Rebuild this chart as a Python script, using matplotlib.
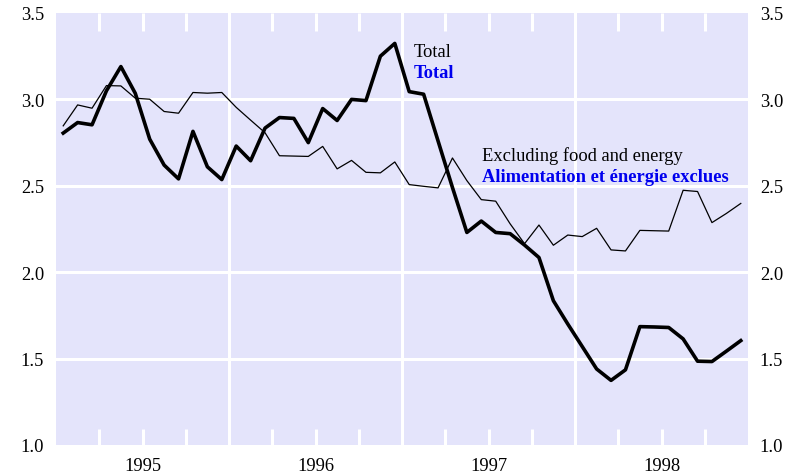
import numpy as np
import matplotlib
matplotlib.use("Agg")
import matplotlib.pyplot as plt

# monthly data, Jan 1995 - Dec 1998
total = [2.805, 2.866, 2.853, 3.05, 3.19, 3.035, 2.77, 2.62, 2.54, 2.815, 2.61, 2.536,
         2.73, 2.645, 2.834, 2.895, 2.89, 2.75, 2.947, 2.878, 3.0, 2.993, 3.25, 3.324,
         3.045, 3.03, 2.76, 2.49, 2.23, 2.296, 2.23, 2.223, 2.157, 2.085, 1.835, 1.70,
         1.57, 1.44, 1.374, 1.435, 1.685, 1.683, 1.68, 1.614, 1.485, 1.483, 1.543, 1.604]
core = [2.847, 2.968, 2.949, 3.08, 3.078, 3.007, 3.001, 2.93, 2.92, 3.04, 3.036, 3.04,
        2.954, 2.88, 2.807, 2.674, 2.672, 2.67, 2.728, 2.598, 2.647, 2.578, 2.575, 2.638,
        2.507, 2.497, 2.488, 2.661, 2.53, 2.42, 2.411, 2.28, 2.165, 2.273, 2.156, 2.215,
        2.206, 2.254, 2.129, 2.123, 2.242, 2.24, 2.238, 2.474, 2.467, 2.287, 2.34, 2.398]
years = [1995, 1996, 1997, 1998]
yticks = [1.0, 1.5, 2.0, 2.5, 3.0, 3.5]

plt.rcParams['font.family'] = ['Liberation Serif', 'DejaVu Serif']
plt.rcParams['font.size'] = 13.3

x = 1995 + (np.arange(len(total)) + 0.5) / 12.0

fig = plt.figure(figsize=(7.99, 4.77), dpi=100)
ax = fig.add_axes([56 / 799, 31 / 477, 692 / 799, 432 / 477])
ax.set_facecolor('#e4e4fb')
for s in ax.spines.values():
    s.set_visible(False)

ax.set_xlim(1995, 1999)
ax.set_ylim(1.0, 3.5)

# grid
for y in yticks[1:-1]:
    ax.axhline(y, color='white', lw=2.2, zorder=1)
for yr in years[1:]:
    ax.axvline(yr, color='white', lw=2.2, zorder=1)
for yr in years:
    for q in (0.25, 0.5, 0.75):
        ax.plot([yr + q, yr + q], [1.0, 1.095], color='white', lw=2.2, zorder=1, solid_capstyle='butt')
        ax.plot([yr + q, yr + q], [3.5, 3.395], color='white', lw=2.2, zorder=1, solid_capstyle='butt')

ax.plot(x, core, color='black', lw=0.9, zorder=3)
ax.plot(x, total, color='black', lw=2.6, zorder=4)

ax.set_yticks(yticks)
ax.set_yticklabels(['%.1f' % v for v in yticks])
ax.tick_params(axis='y', length=0, pad=8.5, labelright=True)
ax.set_xticks([yr + 0.5 for yr in years])
ax.set_xticklabels([str(yr) for yr in years])
ax.tick_params(axis='x', length=0, pad=9)

ax.text(1997.065, 3.251, 'Total', color='black', va='baseline', ha='left')
ax.text(1997.065, 3.13, 'Total', color='#0000ee', fontweight='bold', va='baseline', ha='left')
ax.text(1997.465, 2.651, 'Excluding food and energy', color='black', va='baseline', ha='left')
ax.text(1997.465, 2.529, 'Alimentation et énergie exclues', color='#0000ee',
        fontweight='bold', va='baseline', ha='left')

fig.savefig('out.png', dpi=100)
